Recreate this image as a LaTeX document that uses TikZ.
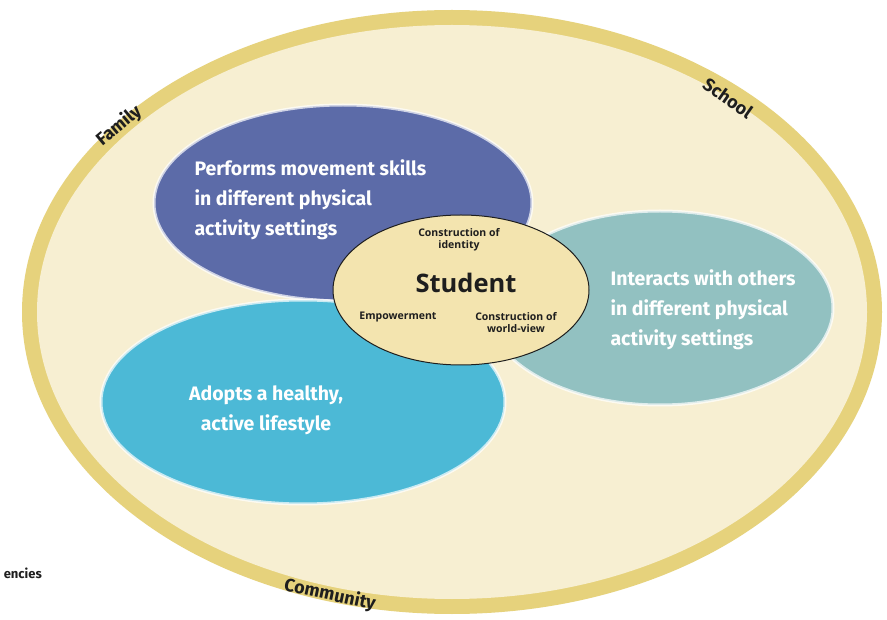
\documentclass[tikz,border=0pt]{standalone}
\usepackage{fontspec}
\setmainfont{Fira Sans}
\newfontfamily\centerfont{Open Sans}
\definecolor{bandc}{HTML}{E6D27C}
\definecolor{innerc}{HTML}{F7EFD2}
\definecolor{bluec}{HTML}{5C6BA8}
\definecolor{cyanc}{HTML}{4CB9D6}
\definecolor{tealc}{HTML}{92C1C1}
\definecolor{centc}{HTML}{F3E4AF}
\definecolor{inkc}{HTML}{1E1E1E}
\tikzset{
  blob/.style={draw=white, draw opacity=0.7, line width=3pt},
  bigtxt/.style={text=white, font=\bfseries\fontsize{19.5}{30}\selectfont, align=left},
  ringtxt/.style={text=inkc, font=\bfseries\fontsize{18}{18}\selectfont, inner sep=1pt},
  smalltxt/.style={text=inkc, font=\centerfont\bfseries\fontsize{10.5}{12}\selectfont, align=center},
}
\begin{document}
\begin{tikzpicture}[x=1pt,y=-1pt]
\useasboundingbox (0,0) rectangle (887,620);
\fill[white] (0,0) rectangle (887,620);
% outer ring
\fill[bandc] (452,312) ellipse [x radius=430, y radius=302];
\fill[innerc] (452,312) ellipse [x radius=415, y radius=287];
% ellipses
\path[blob, fill=bluec] (343,203) ellipse [x radius=189, y radius=98];
\path[blob, fill=cyanc] (303,402) ellipse [x radius=202, y radius=102];
\path[blob, fill=tealc] (660,308) ellipse [x radius=173, y radius=97];
\path[draw=inkc, line width=1pt, fill=centc] (461,290) ellipse [x radius=128, y radius=75];
% texts
\node[bigtxt, anchor=west] (perf) at (191,200) {Performs movement skills\\in different physical\\activity settings};
\node[bigtxt, align=center] (adopt) at (266,410) {Adopts a healthy,\\active lifestyle};
\node[bigtxt, anchor=west] (inter) at (607,310) {Interacts with others\\in different physical\\activity settings};
\node[smalltxt] (ident) at (459,240) {Construction of\\identity};
\node[text=inkc, font=\centerfont\bfseries\fontsize{25.5}{25.5}\selectfont] (stud) at (466,283) {Student};
\node[smalltxt] (emp) at (398,317) {Empowerment};
\node[smalltxt] (world) at (516,323) {Construction of\\world-view};
\node[ringtxt, rotate=40] (fam) at (119,126) {Family};
\node[ringtxt, rotate=-35] (sch) at (728,98) {School};
\node[ringtxt, rotate=-12] (com) at (330,595) {Community};
\node[text=inkc, font=\bfseries\fontsize{13}{13}\selectfont, anchor=east, inner sep=1pt] (enc) at (43,573) {encies};
\end{tikzpicture}
\end{document}
